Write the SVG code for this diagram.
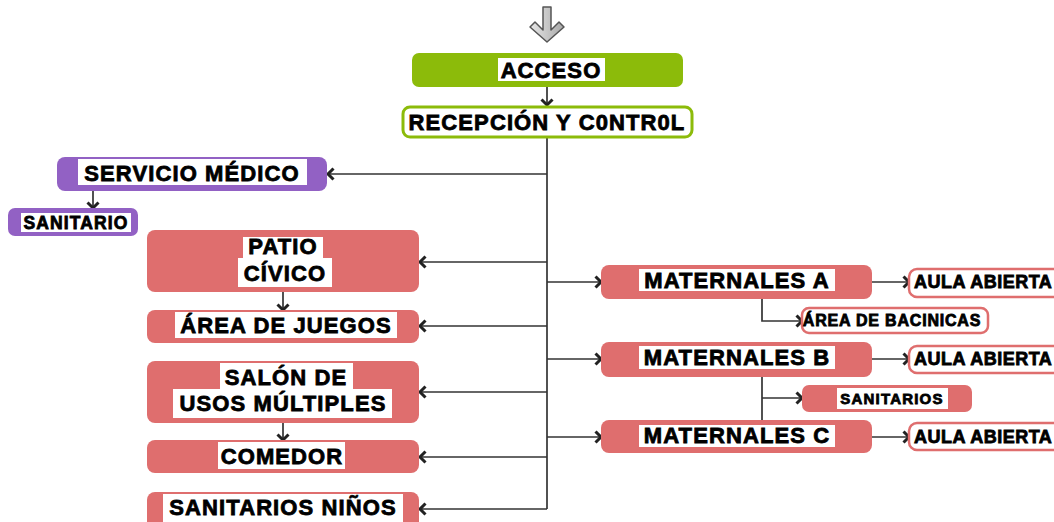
<svg xmlns="http://www.w3.org/2000/svg" width="1054" height="522" viewBox="0 0 1054 522">
<defs>
<style>
.t{font-family:"Liberation Sans",Arial,sans-serif;font-weight:bold;fill:#000;stroke:#000;stroke-width:0.8;letter-spacing:1.1px}
.t22{font-size:22px}
.t18{font-size:18px;letter-spacing:0.5px}
.t16{font-size:16px;letter-spacing:0.8px}
.lbl{fill:#fff}
.g{fill:#8cbb0a}
.gw{fill:#fff;stroke:#8cbb0a;stroke-width:3}
.p{fill:#9261c4}
.s{fill:#df6e6e}
.sw{fill:#fff;stroke:#df6e6e;stroke-width:2.5}
.c{fill:none;stroke:#333;stroke-width:1.7}
</style>
<marker id="ah" markerUnits="userSpaceOnUse" markerWidth="10" markerHeight="14" refX="7" refY="7" orient="auto">
<path d="M1.5,1.5 L7,7 L1.5,12.5" fill="none" stroke="#222" stroke-width="3"/>
</marker>
<linearGradient id="ag" x1="0" y1="0" x2="1" y2="0">
<stop offset="0" stop-color="#e6e6e6"/>
<stop offset="1" stop-color="#a8a8a8"/>
</linearGradient>
</defs>

<g id="entrada-flecha">
<path d="M543,7 L551,7 L551,30 L559,22 L564,27 L547,42 L530,27 L535,22 L543,30 Z" fill="url(#ag)" stroke="#555" stroke-width="1.5" stroke-linejoin="round"/>
</g>

<g id="connectors">
<path class="c" d="M547,87 V105" marker-end="url(#ah)"/>
<path class="c" d="M547,138 V509"/>
<path class="c" d="M547,174 H328" marker-end="url(#ah)"/>
<path class="c" d="M547,262 H420" marker-end="url(#ah)"/>
<path class="c" d="M547,326 H420" marker-end="url(#ah)"/>
<path class="c" d="M547,392 H420" marker-end="url(#ah)"/>
<path class="c" d="M547,457 H420" marker-end="url(#ah)"/>
<path class="c" d="M547,509 H420" marker-end="url(#ah)"/>
<path class="c" d="M547,282 H601" marker-end="url(#ah)"/>
<path class="c" d="M547,359 H601" marker-end="url(#ah)"/>
<path class="c" d="M547,437 H601" marker-end="url(#ah)"/>
<path class="c" d="M872,282 H909" marker-end="url(#ah)"/>
<path class="c" d="M872,359 H909" marker-end="url(#ah)"/>
<path class="c" d="M872,437 H909" marker-end="url(#ah)"/>
<path class="c" d="M762,299 V321 H802" marker-end="url(#ah)"/>
<path class="c" d="M762,377 V420"/>
<path class="c" d="M762,398 H802" marker-end="url(#ah)"/>
<path class="c" d="M93,191 V208" marker-end="url(#ah)"/>
<path class="c" d="M283,292 V310" marker-end="url(#ah)"/>
<path class="c" d="M283,423 V440" marker-end="url(#ah)"/>
</g>

<g id="acceso">
<rect class="g" x="412" y="53" width="271" height="34" rx="7"/>
<rect class="lbl" x="498" y="58" width="107" height="23"/>
<text class="t t22" x="551" y="78" text-anchor="middle">ACCESO</text>
</g>

<g id="recepcion">
<rect class="gw" x="403" y="107" width="289" height="30" rx="7"/>
<text class="t t22" x="547" y="130" text-anchor="middle">RECEPCIÓN Y C0NTR0L</text>
</g>

<g id="servicio-medico">
<rect class="p" x="57" y="157" width="270" height="34" rx="8"/>
<rect class="lbl" x="78" y="159" width="229" height="26"/>
<text class="t t22" x="192" y="181" text-anchor="middle">SERVICIO MÉDICO</text>
</g>

<g id="sanitario">
<rect class="p" x="8" y="208" width="130" height="28" rx="7"/>
<rect class="lbl" x="21" y="213" width="110" height="19"/>
<text class="t" style="font-size:17.5px" x="76" y="229" text-anchor="middle">SANITARIO</text>
</g>

<g id="patio-civico">
<rect class="s" x="147" y="230" width="272" height="62" rx="8"/>
<rect class="lbl" x="243" y="237" width="80" height="21"/>
<rect class="lbl" x="238" y="258" width="94" height="29"/>
<text class="t t22" x="283" y="254" text-anchor="middle">PATIO</text>
<text class="t t22" x="285" y="281" text-anchor="middle">CÍVICO</text>
</g>

<g id="area-juegos">
<rect class="s" x="147" y="310" width="272" height="33" rx="8"/>
<rect class="lbl" x="175" y="312" width="222" height="26"/>
<text class="t t22" x="286" y="333" text-anchor="middle">ÁREA DE JUEGOS</text>
</g>

<g id="salon-usos-multiples">
<rect class="s" x="147" y="361" width="272" height="62" rx="8"/>
<rect class="lbl" x="220" y="363" width="133" height="26"/>
<rect class="lbl" x="173" y="389" width="219" height="29"/>
<text class="t t22" x="286" y="385" text-anchor="middle">SALÓN DE</text>
<text class="t t22" x="283" y="411" text-anchor="middle">USOS MÚLTIPLES</text>
</g>

<g id="comedor">
<rect class="s" x="147" y="440" width="272" height="33" rx="8"/>
<rect class="lbl" x="218" y="442" width="127" height="27"/>
<text class="t t22" x="282" y="464" text-anchor="middle">COMEDOR</text>
</g>

<g id="sanitarios-ninos">
<rect class="s" x="147" y="492" width="272" height="40" rx="8"/>
<rect class="lbl" x="163" y="494" width="240" height="28"/>
<text class="t t22" x="283" y="515" text-anchor="middle">SANITARIOS NIÑOS</text>
</g>

<g id="maternales-a">
<rect class="s" x="601" y="265" width="271" height="34" rx="8"/>
<rect class="lbl" x="639" y="269" width="196" height="22"/>
<text class="t t22" x="737" y="288" text-anchor="middle">MATERNALES A</text>
</g>

<g id="maternales-b">
<rect class="s" x="601" y="342" width="271" height="35" rx="8"/>
<rect class="lbl" x="639" y="346" width="196" height="23"/>
<text class="t t22" x="737" y="365" text-anchor="middle">MATERNALES B</text>
</g>

<g id="maternales-c">
<rect class="s" x="601" y="420" width="271" height="33" rx="8"/>
<rect class="lbl" x="639" y="425" width="196" height="22"/>
<text class="t t22" x="737" y="443" text-anchor="middle">MATERNALES C</text>
</g>

<g id="aula-abierta-a">
<rect class="sw" x="909" y="269" width="170" height="28" rx="8"/>
<text class="t t18" x="914" y="288">AULA ABIERTA</text>
</g>

<g id="aula-abierta-b">
<rect class="sw" x="909" y="346" width="170" height="27" rx="8"/>
<text class="t t18" x="914" y="365">AULA ABIERTA</text>
</g>

<g id="aula-abierta-c">
<rect class="sw" x="909" y="423" width="170" height="27" rx="8"/>
<text class="t t18" x="914" y="443">AULA ABIERTA</text>
</g>

<g id="area-bacinicas">
<rect class="sw" x="802" y="308" width="186" height="25" rx="7"/>
<text class="t t16" x="892" y="326" text-anchor="middle">ÁREA DE BACINICAS</text>
</g>

<g id="sanitarios-maternales">
<rect class="s" x="802" y="385" width="170" height="27" rx="7"/>
<rect class="lbl" x="837" y="388" width="111" height="21"/>
<text class="t" style="font-size:15px;letter-spacing:1.2px" x="892" y="404" text-anchor="middle">SANITARIOS</text>
</g>
</svg>
